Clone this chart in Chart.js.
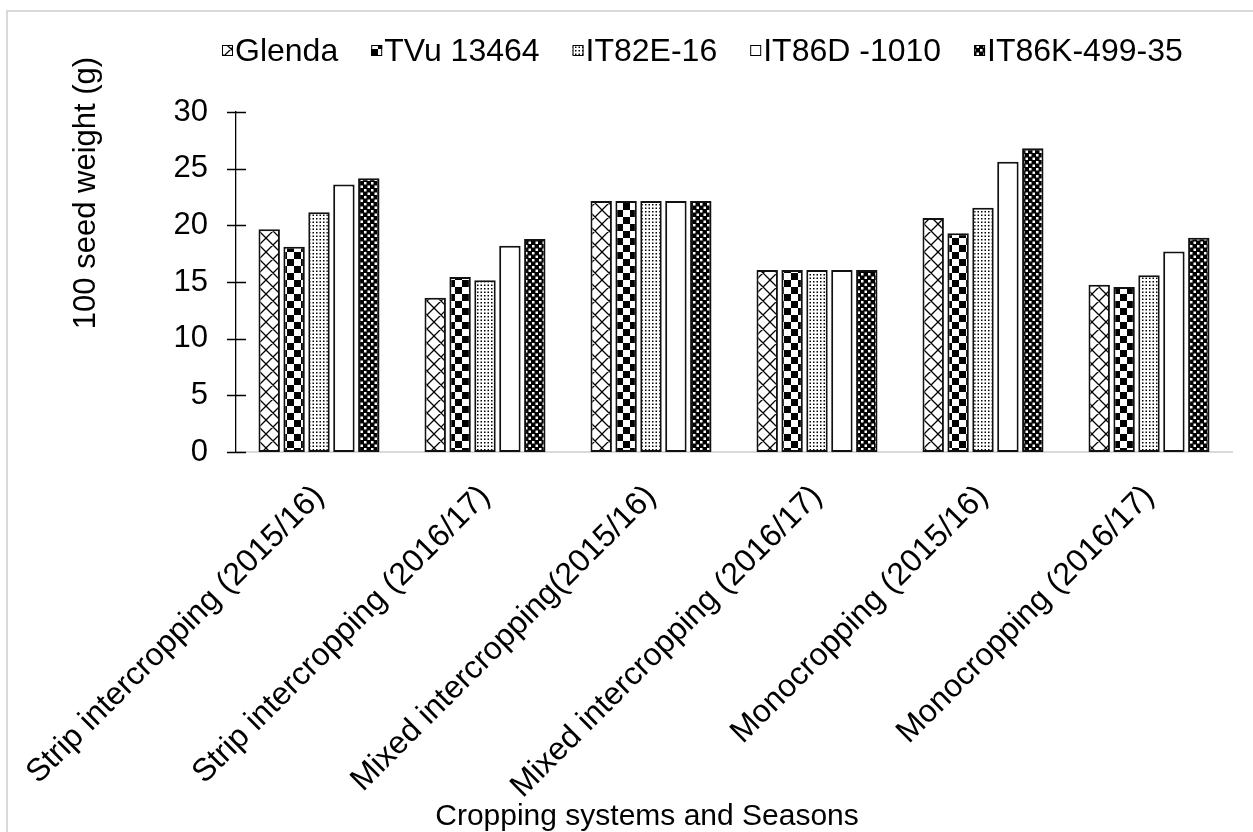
<!DOCTYPE html>
<html>
<head>
<meta charset="utf-8">
<script src="https://cdn.jsdelivr.net/npm/chart.js@4.4.1/dist/chart.umd.min.js"></script>
<style>
  html, body { margin: 0; padding: 0; background: #fff; }
  #wrap { width: 1253px; height: 832px; position: relative; }
</style>
</head>
<body>
<div id="wrap"><canvas id="c" width="1253" height="832"></canvas></div>
<script>
// Cropping systems / seasons on the category axis
const categories = [
  'Strip intercropping (2015/16)',
  'Strip intercropping (2016/17)',
  'Mixed intercropping(2015/16)',
  'Mixed intercropping (2016/17)',
  'Monocropping (2015/16)',
  'Monocropping (2016/17)'
];

// Cowpea varieties
const varieties = ['Glenda', 'TVu 13464', 'IT82E-16', 'IT86D -1010', 'IT86K-499-35'];

// 100 seed weight (g) per variety, one value per category
const glenda   = [19.65, 13.6, 22.15, 16.05, 20.65, 14.75];
const tvu13464 = [18.1, 15.45, 22.15, 16.05, 19.3, 14.55];
const it82e16  = [21.15, 15.15, 22.15, 16.05, 21.55, 15.6];
const it86d    = [23.6, 18.2, 22.15, 16.05, 25.6, 17.7];
const it86k    = [24.15, 18.8, 22.15, 16.05, 26.8, 18.9];

const yTicks = [0, 5, 10, 15, 20, 25, 30];

const FONT = '"Liberation Sans", Arial, sans-serif';
const canvas = document.getElementById('c');
const ctx = canvas.getContext('2d');

function makePattern(size, draw) {
  const t = document.createElement('canvas');
  t.width = size; t.height = size;
  const g = t.getContext('2d');
  g.fillStyle = '#fff';
  g.fillRect(0, 0, size, size);
  draw(g, size);
  return ctx.createPattern(t, 'repeat');
}

// diagonal lattice
const crossPattern = makePattern(14, (g, s) => {
  g.strokeStyle = '#000';
  g.lineWidth = 1.3;
  g.beginPath();
  for (const dx of [-s, 0, s]) {
    g.moveTo(dx, 0); g.lineTo(dx + s, s);
    g.moveTo(dx + s, 0); g.lineTo(dx, s);
  }
  g.stroke();
});
// checkerboard
const checkPattern = makePattern(14, (g, s) => {
  g.fillStyle = '#000';
  g.fillRect(0, 0, s / 2, s / 2);
  g.fillRect(s / 2, s / 2, s / 2, s / 2);
});
// fine dots
const dotPattern = makePattern(7, (g) => {
  g.fillStyle = '#000';
  for (const [x, y] of [[1, 1], [4.5, 1], [1, 4.5], [4.5, 4.5]]) g.fillRect(x, y, 1.5, 1.5);
});
// dark texture
const darkPattern = makePattern(7, (g, s) => {
  g.fillStyle = '#000';
  g.fillRect(0, 0, s, s);
  g.fillStyle = '#fff';
  g.fillRect(0, 0, 2.5, 2.5);
  g.fillRect(3.5, 3.5, 2.5, 2.5);
});

const fills = [crossPattern, checkPattern, dotPattern, '#ffffff', darkPattern];
const seriesData = [glenda, tvu13464, it82e16, it86d, it86k];

// Legend, axis titles, y tick marks and frame
const decorations = {
  id: 'decorations',
  beforeDraw(chart) {
    const c = chart.ctx;
    c.save();
    c.strokeStyle = '#d9d9d9';
    c.lineWidth = 2;
    c.beginPath();
    c.moveTo(7, 832); c.lineTo(7, 11); c.lineTo(1253, 11);
    c.stroke();
    c.restore();
  },
  afterDraw(chart) {
    const c = chart.ctx;
    const y = chart.scales.y;
    const left = chart.chartArea.left;
    c.save();
    // y tick marks crossing the axis
    c.strokeStyle = '#000';
    c.lineWidth = 1.3;
    c.beginPath();
    yTicks.forEach(v => {
      const py = Math.round(y.getPixelForValue(v)) + 0.5;
      c.moveTo(left - 9, py); c.lineTo(left + 10, py);
    });
    c.stroke();

    // legend: box, short gap, label; items separated by a fixed gap
    c.font = '32px ' + FONT;
    c.textBaseline = 'middle';
    const itemGap = 33;
    let x = 222;
    const cy = 50;
    chart.data.datasets.forEach(d => {
      c.fillStyle = d.backgroundColor;
      c.fillRect(x, cy - 5, 11, 11);
      c.strokeStyle = '#000';
      c.lineWidth = 1;
      c.strokeRect(x + 0.5, cy - 5 + 0.5, 10, 10);
      c.fillStyle = '#000';
      c.textAlign = 'left';
      c.fillText(d.label, x + 13, cy + 2);
      x += 13 + c.measureText(d.label).width + itemGap;
    });

    // y axis title
    c.save();
    c.translate(86, 193);
    c.rotate(-Math.PI / 2);
    c.font = '31px ' + FONT;
    c.textAlign = 'center';
    c.textBaseline = 'middle';
    c.fillText('100 seed weight (g)', 0, 0);
    c.restore();

    // x axis title
    c.font = '30px ' + FONT;
    c.textAlign = 'center';
    c.textBaseline = 'alphabetic';
    c.fillText('Cropping systems and Seasons', 647, 825);
    c.restore();
  }
};

new Chart(ctx, {
  type: 'bar',
  data: {
    labels: categories,
    datasets: varieties.map((name, i) => ({
      label: name,
      data: seriesData[i],
      backgroundColor: fills[i],
      borderColor: '#111',
      borderWidth: 2,
      borderSkipped: false,
      categoryPercentage: 0.75,
      barPercentage: 0.86
    }))
  },
  options: {
    responsive: false,
    animation: false,
    devicePixelRatio: 1,
    layout: { padding: { left: 0, right: 21, top: 112, bottom: 0 } },
    plugins: {
      legend: { display: false },
      tooltip: { enabled: false }
    },
    scales: {
      x: {
        grid: { display: false, drawTicks: false },
        border: { color: '#d9d9d9', width: 2 },
        ticks: {
          color: '#000',
          font: { family: FONT, size: 32 },
          minRotation: 45,
          maxRotation: 45,
          autoSkip: false,
          padding: 26
        },
        afterFit: s => {
          s.height = 380;
          // rotated labels may hang past the plot edges; keep the plot width fixed
          s.paddingLeft = 0;
          s.paddingRight = 0;
        }
      },
      y: {
        min: 0,
        max: 30,
        afterBuildTicks: s => { s.ticks = yTicks.map(v => ({ value: v })); },
        grid: { display: false, drawTicks: false },
        border: { color: '#000', width: 1.3 },
        ticks: {
          color: '#000',
          font: { family: FONT, size: 31 },
          padding: 28
        },
        afterFit: s => { s.width = 236; }
      }
    }
  },
  plugins: [decorations]
});
</script>
</body>
</html>
